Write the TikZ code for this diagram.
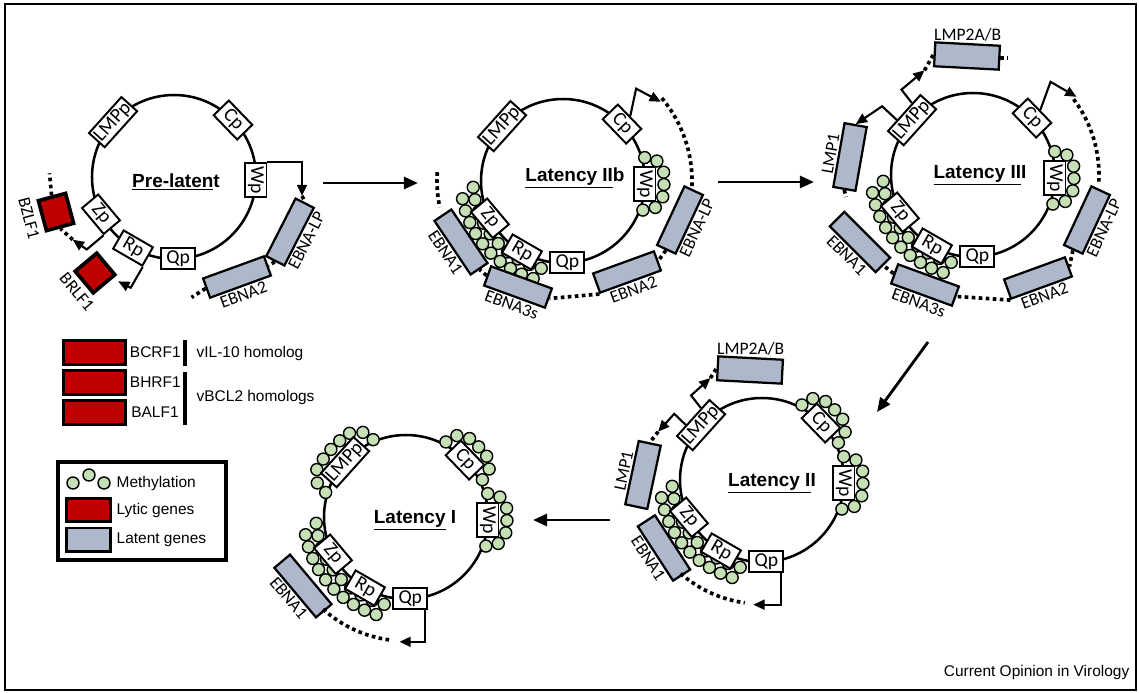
\documentclass[tikz,border=0pt]{standalone}
\usepackage{fontspec}
\setmainfont{Liberation Sans}
\newfontfamily\calib{Carlito}
\usepackage{tikz}
\usetikzlibrary{arrows.meta, calc, positioning}
\definecolor{lyticred}{HTML}{C00000}
\definecolor{latentblue}{HTML}{ADB9CA}
\definecolor{methylgreen}{HTML}{C5E0B4}
\tikzstyle{genome} = [line width=1.8pt]
\tikzstyle{promoter} = [rectangle, draw, fill=white, line width=1.4pt, minimum width=24pt, minimum height=15pt, inner sep=1pt, font=\calib\fontsize{14}{14}\selectfont]
\tikzstyle{latent} = [rectangle, draw, fill=latentblue, line width=1.6pt, minimum width=46pt, minimum height=14.5pt]
\tikzstyle{lytic} = [rectangle, draw, fill=lyticred, line width=2.6pt]
\tikzstyle{genename} = [font=\calib\fontsize{12.5}{13}\selectfont, inner sep=1pt]
\tikzstyle{stagename} = [font=\fontsize{13.5}{15}\selectfont\bfseries]
\tikzstyle{legendtext} = [font=\fontsize{11}{12}\selectfont, inner sep=1pt]
\tikzstyle{splice} = [line width=2.6pt, dash pattern=on 2.6pt off 2.4pt]
\tikzstyle{parrow} = [-{Triangle[length=8pt, width=7pt]}, line width=1.5pt]
\tikzstyle{stagearrow} = [-{Triangle[length=10pt, width=8.5pt]}, line width=2pt]
\tikzstyle{methyl} = [draw, fill=methylgreen, line width=1pt]

\begin{document}
\begin{tikzpicture}[x=0.025cm, y=0.025cm]
    \useasboundingbox (0,0) rectangle (1139,-692);
    \draw[line width=1.2pt] (5,-4) rectangle (1136,-690);

        % stage centres
        \coordinate (pl) at (174,-177);
        \coordinate (lIIb) at (563,-181);
        \coordinate (lIII) at (973,-175);
        \coordinate (lII) at (762,-480);
        \coordinate (lI) at (406,-517);

        % genomes
        \foreach \s in {pl,lIIb,lIII,lII,lI}
            \draw[genome] (\s) circle (82);

        % methylation
        \foreach \s in {lIIb,lIII,lII,lI} {
            \foreach \a in {-176,-168,...,-104}
                \draw[methyl] ($(\s)+(\a:90)$) circle (6);
            \foreach \a in {-170,-163,...,-107}
                \draw[methyl] ($(\s)+(\a:102)$) circle (6);
        }
        \foreach \s/\p in {lIIb/-2,lIII/-2,lII/-2,lII/44,lI/-2,lI/44} {
            \foreach \d in {-7,0,7}
                \draw[methyl] ($(\s)+({\p+\d}:101)$) circle (6);
            \foreach \d in {-14,14}
                \draw[methyl] ($(\s)+({\p+\d}:96)$) circle (6);
            \foreach \d in {-18,18}
                \draw[methyl] ($(\s)+({\p+\d}:85)$) circle (6);
        }
        \foreach \d in {-14,-7,...,14}
            \draw[methyl] ($(lI)+({138+\d}:101)$) circle (6);
        \foreach \d in {-21,21}
            \draw[methyl] ($(lI)+({138+\d}:95)$) circle (6);
        \foreach \d in {-25,25}
            \draw[methyl] ($(lI)+({138+\d}:84)$) circle (6);

        % promoters
        \foreach \s in {pl,lIIb,lIII,lII,lI} {
            \node (\s-lmp) [promoter, rotate=48] at ($(\s)+(138:82)$) {LMPp};
            \node (\s-cp) [promoter, rotate=-46] at ($(\s)+(44:82)$) {Cp};
            \node (\s-wp) [promoter, rotate=-90] at ($(\s)+(-2:82)$) {Wp};
            \node (\s-zp) [promoter, rotate=-50] at ($(\s)+(-153:82)$) {Zp};
            \node (\s-rp) [promoter, rotate=-30] at ($(\s)+(-120:82)$) {Rp};
            \node (\s-qp) [promoter] at ($(\s)+(-87:82)$) {Qp};
        }

        % stage names
        \node (pl-name) [stagename] at (176,-182) {\underline{Pre-laten}t};
        \node (lIIb-name) [stagename] at (575,-178) {\underline{Latency II}b};
        \node (lIII-name) [stagename] at (980,-175) {\underline{Latency II}I};
        \node (lII-name) [stagename] at (772,-483) {\underline{Latency I}I};
        \node (lI-name) [stagename] at (415,-520) {\underline{Latency} I};

        % pre-latent genes
        \node (pl-lp) [latent, rotate=63] at (290,-232) {};
        \node (pl-lp-l) [genename, rotate=63, below=0pt of pl-lp] {EBNA-LP};
        \node (pl-e2) [latent, rotate=20] at (237,-277) {};
        \node (pl-e2-l) [genename, rotate=20, below=0pt of pl-e2] {EBNA2};
        \node (pl-bz) [lytic, rotate=15, minimum width=20pt, minimum height=22pt] at (56,-212) {};
        \node (pl-bz-l) [genename, rotate=-75] at (29,-218) {BZLF1};
        \node (pl-br) [lytic, rotate=40, minimum width=20pt, minimum height=20pt] at (95,-273) {};
        \node (pl-br-l) [genename, rotate=-50] at (77,-292) {BRLF1};
        \coordinate (pl-wptip) at (302,-196);

        \draw [parrow] (pl-wp.north west) -| (pl-wptip);
        \draw [splice] (pl-wptip) -- (pl-lp.east);
        \draw [splice] (pl-lp.west) -- (pl-e2.east);
        \draw [splice] (pl-e2.west) -- ++(-14,-9);
        \draw [splice] (pl-bz.north) -- ++(-2,22);
        \draw [parrow] (pl-zp.south east) -- ++(-140:22) -- ++(145:17) coordinate (pl-zptip);
        \draw [splice] (pl-zptip) -- (pl-bz.south);
        \draw [parrow] (pl-rp.south east) -- ++(-120:24) -- ++(153:14);

        % latency IIb genes
        \node (lIIb-lp) [latent, rotate=65] at (680,-220) {};
        \node (lIIb-lp-l) [genename, rotate=65, below=0pt of lIIb-lp] {EBNA-LP};
        \node (lIIb-e2) [latent, rotate=20] at (627,-272) {};
        \node (lIIb-e2-l) [genename, rotate=20, below=0pt of lIIb-e2] {EBNA2};
        \node (lIIb-e3) [latent, rotate=-20] at (518,-287) {};
        \node (lIIb-e3-l) [genename, rotate=-20, below=0pt of lIIb-e3] {EBNA3s};
        \node (lIIb-e1) [latent, rotate=-56] at (461,-242) {};
        \node (lIIb-e1-l) [genename, rotate=-56, below=0pt of lIIb-e1] {EBNA1};

        \draw [parrow] (lIIb-cp.north) -- ++(78:28) -- ++(-28:28) coordinate (lIIb-cptip);
        \draw [splice] ($(lIIb)+(40:129)$) arc[start angle=40, end angle=-3, radius=129];
        \draw [splice] (lIIb-lp.west) -- (lIIb-e2.east);
        \draw [splice] (lIIb-e2.south west) -- (lIIb-e3.east);
        \draw [splice] (lIIb-e3.west) -- (lIIb-e1.east);
        \draw [splice] ($(lIIb)+(176:126)$) arc[start angle=176, end angle=192, radius=126];

        % latency III genes
        \node (lIII-l2) [latent, minimum height=17pt, rotate=-3] at (967,-56) {};
        \node (lIII-l2-l) [genename, above=0pt of lIII-l2] {LMP2A/B};
        \node (lIII-l1) [latent, minimum height=16pt, rotate=80] at (850,-157) {};
        \node (lIII-l1-l) [genename, rotate=80, above=0pt of lIII-l1] {LMP1};
        \node (lIII-lp) [latent, rotate=65] at (1087,-220) {};
        \node (lIII-lp-l) [genename, rotate=65, below=0pt of lIII-lp] {EBNA-LP};
        \node (lIII-e2) [latent, rotate=20] at (1038,-278) {};
        \node (lIII-e2-l) [genename, rotate=20, below=0pt of lIII-e2] {EBNA2};
        \node (lIII-e3) [latent, rotate=-20] at (925,-285) {};
        \node (lIII-e3-l) [genename, rotate=-20, below=0pt of lIII-e3] {EBNA3s};
        \node (lIII-e1) [latent, rotate=-45] at (860,-242) {};
        \node (lIII-e1-l) [genename, rotate=-45, below=0pt of lIII-e1] {EBNA1};

        \draw [parrow] ($(lIII-lmp.north)!0.5!(lIII-lmp.north east)$) -- ++(128:17) -- ++(40:30) coordinate (lIII-lmptip);
        \draw [splice] (lIII-lmptip) -- (lIII-l2.west);
        \draw [splice] (lIII-l2.east) -- ++(8,0);
        \draw [parrow] ($(lIII-lmp.north)!0.4!(lIII-lmp.north west)$) -- ++(137:20) -- (lIII-l1.east);
        \draw [splice] (lIII-l1.west) -- ++(2,-7);
        \draw [parrow] (lIII-cp.north) -- ++(70:30) -- ++(-30:30) coordinate (lIII-cptip);
        \draw [splice] ($(lIII)+(37:126)$) arc[start angle=37, end angle=-4, radius=126];
        \draw [splice] (lIII-lp.west) -- (lIII-e2.east);
        \draw [splice] (lIII-e2.south west) -- (lIII-e3.east);
        \draw [splice] (lIII-e3.west) -- (lIII-e1.east);

        % latency II genes
        \node (lII-l2) [latent, minimum height=17pt, rotate=-3] at (750,-370) {};
        \node (lII-l2-l) [genename, above=0pt of lII-l2] {LMP2A/B};
        \node (lII-l1) [latent, minimum height=16pt, rotate=78] at (643,-475) {};
        \node (lII-l1-l) [genename, rotate=78, above=0pt of lII-l1] {LMP1};
        \node (lII-e1) [latent, rotate=-57] at (664,-548) {};
        \node (lII-e1-l) [genename, rotate=-57, below=0pt of lII-e1] {EBNA1};
        \coordinate (lII-qptip) at ($(lII)+(-94:125)$);

        \draw [parrow] ($(lII-lmp.north)!0.5!(lII-lmp.north east)$) -- ++(128:16) -- ++(42:26) coordinate (lII-lmptip);
        \draw [splice] (lII-lmptip) -- (lII-l2.west);
        \draw [parrow] ($(lII-lmp.north)!0.4!(lII-lmp.north west)$) -- ++(136:16) -- ++(228:24) coordinate (lII-l1tip);
        \draw [splice] (lII-l1tip) -- (lII-l1.east);
        \draw [parrow] ([xshift=-2pt]lII-qp.south east) |- (lII-qptip);
        \draw [splice] ($(lII)+(-131:124)$) arc[start angle=-131, end angle=-98, radius=124];

        % latency I genes
        \node (lI-e1) [latent, rotate=-50] at (303,-586) {};
        \node (lI-e1-l) [genename, rotate=-50, below=0pt of lI-e1] {EBNA1};
        \coordinate (lI-qptip) at ($(lI)+(-93:125)$);

        \draw [parrow] ([xshift=-2pt]lI-qp.south east) |- (lI-qptip);
        \draw [splice] ($(lI)+(-132:124)$) arc[start angle=-132, end angle=-97, radius=124];

        % stage arrows
        \coordinate (go1a) at (323,-183);
        \coordinate (go1b) at (418,-183);
        \coordinate (go2a) at (718,-182);
        \coordinate (go2b) at (814,-182);
        \coordinate (go3a) at (928,-342);
        \coordinate (go3b) at (877,-412);
        \coordinate (go4a) at (610,-520);
        \coordinate (go4b) at (533,-520);
        \draw [stagearrow] (go1a) -- (go1b);
        \draw [stagearrow] (go2a) -- (go2b);
        \draw [stagearrow] (go3a) -- (go3b);
        \draw [stagearrow] (go4a) -- (go4b);

        % lytic homologs
        \node (bcrf) [lytic, line width=2pt, minimum width=44pt, minimum height=17.5pt] at (94.5,-352.5) {};
        \node (bhrf) [lytic, line width=2pt, minimum width=44pt, minimum height=17.5pt] at (94.5,-382.5) {};
        \node (balf) [lytic, line width=2pt, minimum width=44pt, minimum height=17.5pt] at (94.5,-412.5) {};
        \node (bcrf-l) [legendtext, right=1pt of bcrf] {BCRF1};
        \node (bhrf-l) [legendtext, right=1pt of bhrf] {BHRF1};
        \node (balf-l) [legendtext, right=2pt of balf] {BALF1};
        \draw[line width=2.2pt] (185,-340) -- (185,-366);
        \draw[line width=2.2pt] (185,-372) -- (185,-425);
        \node (vil) [legendtext, anchor=west] at (195,-353) {vIL-10 homolog};
        \node (vbcl) [legendtext, anchor=west] at (195,-397) {vBCL2 homologs};

        % key
        \draw[line width=2.2pt] (58,-462) rectangle (226,-560);
        \draw[methyl] (73,-483) circle (6);
        \draw[methyl] (89,-475) circle (6);
        \draw[methyl] (104,-483) circle (6);
        \node (key-lytic) [lytic, line width=2pt, minimum width=31pt, minimum height=16.5pt] at (88.5,-510) {};
        \node (key-latent) [latent, line width=2pt, minimum width=31pt, minimum height=16.5pt] at (88.5,-539.5) {};
        \node (key-meth-l) [legendtext, anchor=west] at (115,-483) {Methylation};
        \node (key-lytic-l) [legendtext, anchor=west] at (115,-510) {Lytic genes};
        \node (key-latent-l) [legendtext, anchor=west] at (115,-540) {Latent genes};

        \node (credit) [legendtext, anchor=east] at (1131,-672) {Current Opinion in Virology};

    \end{tikzpicture}
\end{document}
